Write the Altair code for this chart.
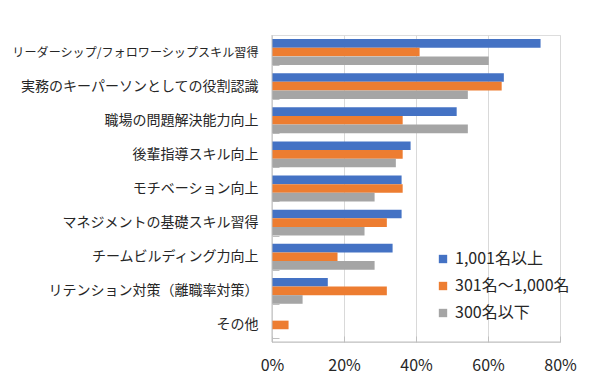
import altair as alt
import pandas as pd

categories = [
    "リーダーシップ/フォロワーシップスキル習得",
    "実務のキーパーソンとしての役割認識",
    "職場の問題解決能力向上",
    "後輩指導スキル向上",
    "モチベーション向上",
    "マネジメントの基礎スキル習得",
    "チームビルディング力向上",
    "リテンション対策（離職率対策）",
    "その他",
]
series = ["1,001名以上", "301名～1,000名", "300名以下"]
large = [74.6, 64.4, 51.3, 38.5, 36.0, 36.0, 33.5, 15.5, 0.0]
middle = [41.0, 63.8, 36.3, 36.3, 36.3, 31.9, 18.2, 31.9, 4.6]
small = [60.2, 54.4, 54.4, 34.4, 28.5, 25.7, 28.5, 8.5, 0.0]
x_ticks = [0, 20, 40, 60, 80]
colors = ["#4472C4", "#ED7D31", "#A5A5A5"]

rows = []
for s, vals in zip(series, [large, middle, small]):
    for c, v in zip(categories, vals):
        rows.append({"category": c, "series": s, "value": v})
df = pd.DataFrame(rows)

W, H = 288, 307
FONT = "Noto Sans CJK JP"
AXIS_COLOR = "#BFBFBF"

x_scale = alt.Scale(domain=[0, 80], nice=False, zero=True)

bars = alt.Chart(df).mark_bar(size=8.6).encode(
    x=alt.X(
        "value:Q",
        scale=x_scale,
        axis=alt.Axis(
            values=x_ticks,
            labelExpr="datum.value + '%'",
            title=None,
            grid=True,
            gridColor="#D9D9D9",
            gridWidth=1,
            domain=False,
            ticks=True,
            tickColor=AXIS_COLOR,
            tickSize=6,
            offset=-6,
            labelPadding=15,
            labelFlush=False,
            labelOverlap=False,
            labelFontSize=16,
            labelFont=FONT,
            labelColor="#262626",
        ),
    ),
    y=alt.Y(
        "category:N",
        sort=categories,
        scale=alt.Scale(paddingInner=0.24, paddingOuter=0.12),
        axis=alt.Axis(
            title=None,
            domain=False,
            ticks=True,
            tickBand="extent",
            tickColor=AXIS_COLOR,
            tickSize=7,
            offset=-7,
            labelPadding=14,
            labelLimit=0,
            labelFont=FONT,
            labelFontSize={"condition": {"test": "length(datum.label) > 18", "value": 12.1}, "value": 14},
            labelColor="#262626",
        ),
    ),
    yOffset=alt.YOffset("series:N", sort=series),
    color=alt.Color(
        "series:N",
        sort=series,
        scale=alt.Scale(domain=series, range=colors),
        legend=alt.Legend(
            title=None,
            orient="none",
            legendX=163,
            legendY=216,
            symbolType="square",
            symbolSize=70,
            symbolStrokeWidth=0,
            labelFont=FONT,
            labelFontSize=16,
            labelColor="#262626",
            rowPadding=11,
            padding=0,
        ),
    ),
)

left_line = alt.Chart(pd.DataFrame({"v": [0]})).mark_rule(color=AXIS_COLOR, strokeWidth=1).encode(
    x=alt.X("v:Q", scale=x_scale)
)
bottom_line = alt.Chart(pd.DataFrame({"a": [0], "b": [80]})).mark_rule(color=AXIS_COLOR, strokeWidth=1).encode(
    x=alt.X("a:Q", scale=x_scale), x2="b:Q", y=alt.value(H)
)

chart = alt.layer(bars, left_line, bottom_line).properties(
    width=W,
    height=H,
    autosize=alt.AutoSizeParams(type="none"),
    padding={"left": 264, "top": 27, "right": 20, "bottom": 35},
).configure_view(stroke=None).configure(background="white")

chart.save("out.html", embed_options={"renderer": "svg", "actions": False})
